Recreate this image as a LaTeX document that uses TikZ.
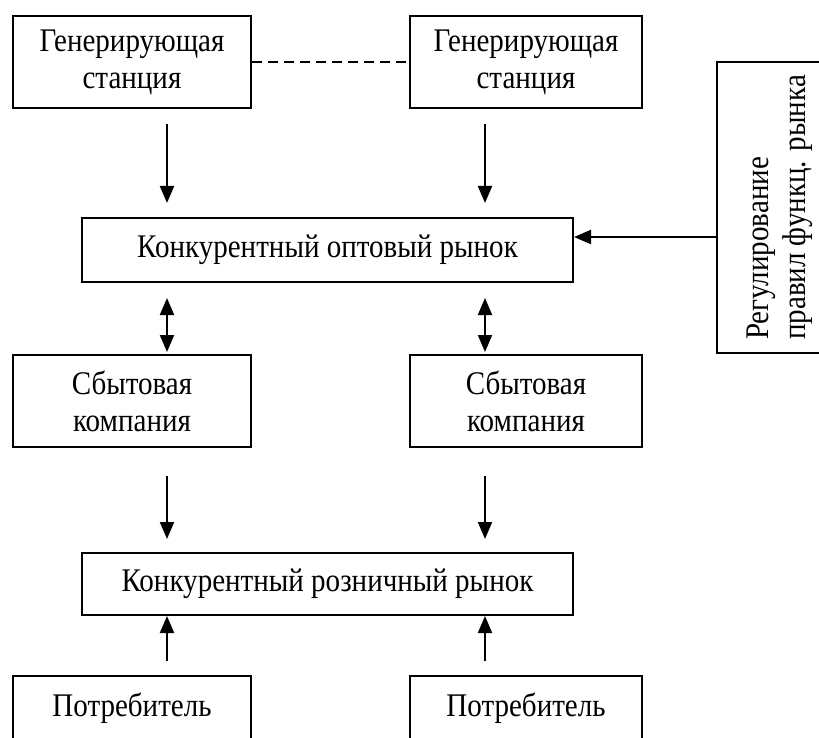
\documentclass[tikz,border=0pt]{standalone}
\usepackage{fontspec}
\setmainfont{Liberation Serif}[FakeStretch=0.88]
\usetikzlibrary{arrows.meta,calc}
\begin{document}
\begin{tikzpicture}[x=1pt,y=-1pt,
  box/.style={draw,line width=2pt,rectangle,inner sep=0pt,align=center,
    font=\fontsize{33}{37}\selectfont},
  arr/.style={line width=2pt,-{Triangle[length=17pt,width=14pt]}},
  darr/.style={line width=2pt,{Triangle[length=17pt,width=14pt]}-{Triangle[length=17pt,width=14pt]}}]
\useasboundingbox (0,0) rectangle (819,738);
\node[box,minimum width=238pt,minimum height=92pt] (g1) at (132,62.5) {Генерирующая\\станция};
\node[box,minimum width=232pt,minimum height=92pt] (g2) at (526,62.5) {Генерирующая\\станция};
\node[box,minimum width=491pt,minimum height=64pt] (opt) at (327.5,250) {Конкурентный оптовый рынок};
\node[box,minimum width=291pt,minimum height=125pt,rotate=90,align=left] (reg) at (779.5,207.5) {Регулирование\\правил функц. рынка};
\node[box,minimum width=238pt,minimum height=92pt] (s1) at (132,401) {Сбытовая\\компания};
\node[box,minimum width=232pt,minimum height=92pt] (s2) at (526,401) {Сбытовая\\компания};
\node[box,minimum width=491pt,minimum height=62pt] (roz) at (327.5,584) {Конкурентный розничный рынок};
\node[box,minimum width=238pt,minimum height=64pt] (p1) at (132,708) {Потребитель};
\node[box,minimum width=232pt,minimum height=64pt] (p2) at (526,708) {Потребитель};
\coordinate (cl) at (167,0);
\coordinate (cr) at (485,0);
\coordinate (cy) at (0,237);
\draw[line width=2pt,dash pattern=on 10pt off 6pt] (g1.east) -- (g2.west);
\draw[arr,shorten <=15pt,shorten >=14pt] (cl |- g1.south) -- (cl |- opt.north);
\draw[arr,shorten <=15pt,shorten >=14pt] (cr |- g2.south) -- (cr |- opt.north);
\draw[darr,shorten <=15pt,shorten >=2pt] (cl |- opt.south) -- (cl |- s1.north);
\draw[darr,shorten <=15pt,shorten >=2pt] (cr |- opt.south) -- (cr |- s2.north);
\draw[arr,shorten <=28pt,shorten >=13pt] (cl |- s1.south) -- (cl |- roz.north);
\draw[arr,shorten <=28pt,shorten >=13pt] (cr |- s2.south) -- (cr |- roz.north);
\draw[arr,shorten <=14pt] (cl |- p1.north) -- (cl |- roz.south);
\draw[arr,shorten <=14pt] (cr |- p2.north) -- (cr |- roz.south);
\draw[arr] (reg.north |- cy) -- (opt.east |- cy);
\end{tikzpicture}
\end{document}
